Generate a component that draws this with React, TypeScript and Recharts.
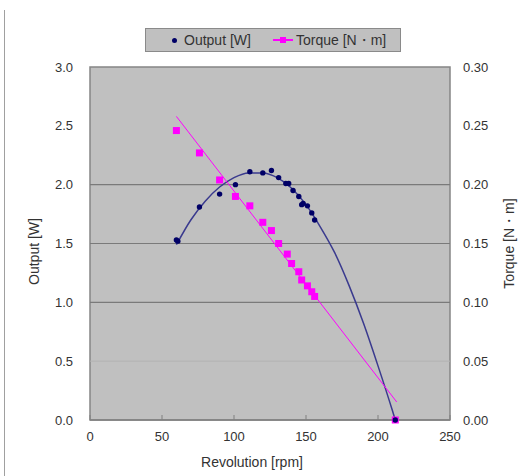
import {
  ComposedChart, Line, Scatter, XAxis, YAxis, ReferenceArea, ReferenceLine,
} from 'recharts';

// measured points, revolution [rpm]
const outputRpm = [60, 61, 76, 90, 101, 111, 120, 126, 131, 136, 138, 141, 145, 147, 148, 151, 154, 156, 212];
const outputW = [1.53, 1.52, 1.81, 1.92, 2.0, 2.11, 2.1, 2.12, 2.06, 2.01, 2.01, 1.95, 1.9, 1.83, 1.84, 1.82, 1.76, 1.7, 0];

const torqueRpm = [60, 76, 90, 101, 111, 120, 126, 131, 137, 140, 145, 147, 151, 154, 156, 212];
const torqueNm = [0.246, 0.227, 0.204, 0.19, 0.182, 0.168, 0.161, 0.15, 0.141, 0.133, 0.126, 0.119, 0.114, 0.109, 0.105, 0];

// trend lines as drawn
const outputTrendRpm = [60, 70, 80, 90, 100, 110, 120, 130, 140, 150, 160, 170, 180, 190, 200, 210, 212];
const outputTrendW = [1.49, 1.7, 1.86, 1.98, 2.06, 2.1, 2.1, 2.06, 1.97, 1.83, 1.64, 1.42, 1.14, 0.82, 0.46, 0.08, 0];
const torqueTrendRpm = [60, 213];
const torqueTrendNm = [0.258, 0.0153];

const xTicks = [0, 50, 100, 150, 200, 250];
const leftTicks = [0, 0.5, 1.0, 1.5, 2.0, 2.5, 3.0];
const rightTicks = [0, 0.05, 0.1, 0.15, 0.2, 0.25, 0.3];

const outputData = outputRpm.map((x, i) => ({ x, w: outputW[i] }));
const torqueData = torqueRpm.map((x, i) => ({ x, t: torqueNm[i] }));
const outputTrend = outputTrendRpm.map((x, i) => ({ x, w: outputTrendW[i] }));
const torqueTrend = torqueTrendRpm.map((x, i) => ({ x, t: torqueTrendNm[i] }));

const FONT = '"Liberation Sans", Arial, sans-serif';
const NAVY = '#000066';
const CURVE = '#3a3a8e';
const MAGENTA = '#ff00ff';

const tickStyle = { fontSize: 13, fill: '#333', fontFamily: FONT };

function XTick(props: any) {
  const { x, y, payload } = props;
  return (
    <g>
      <line x1={x} x2={x} y1={420} y2={415} stroke="#808080" />
      <text x={x} y={y} dy="0.71em" textAnchor="middle" {...tickStyle}>{payload.value}</text>
    </g>
  );
}

const dot = (p: any) => <circle cx={p.cx} cy={p.cy} r={2.7} fill={NAVY} />;
const square = (p: any) => <rect x={p.cx - 3.5} y={p.cy - 3.5} width={7} height={7} fill={MAGENTA} />;

export default function App() {
  return (
    <div style={{ position: 'absolute', left: 0, top: 0, width: 532, height: 476, background: '#fff', fontFamily: FONT }}>
      <div style={{ position: 'absolute', left: 4, top: 10, width: 1, height: 466, background: '#a0a0a0' }} />
      <ComposedChart width={532} height={476} margin={{ top: 67, right: 0, bottom: 0, left: 0 }}>
        <XAxis
          type="number"
          dataKey="x"
          domain={[0, 250]}
          ticks={xTicks}
          height={56}
          tickSize={0}
          tickMargin={12}
          axisLine={{ stroke: '#808080', strokeWidth: 1.5 }}
          tick={<XTick />}
          allowDataOverflow
          label={{ value: 'Revolution [rpm]', position: 'insideBottom', offset: 9, dx: -18, fontSize: 14, fill: '#333', fontFamily: FONT }}
        />
        <YAxis
          yAxisId="left"
          domain={[0, 3]}
          ticks={leftTicks}
          width={90}
          tickSize={0}
          tickMargin={17}
          axisLine={false}
          tickFormatter={(v: number) => v.toFixed(1)}
          tick={tickStyle}
          label={{ value: 'Output [W]', angle: -90, position: 'insideLeft', offset: 34, dy: 8, fontSize: 14, fill: '#333', fontFamily: FONT, style: { textAnchor: 'middle' } }}
        />
        <YAxis
          yAxisId="right"
          orientation="right"
          domain={[0, 0.3]}
          ticks={rightTicks}
          width={82}
          tickSize={0}
          tickMargin={13}
          axisLine={false}
          tickFormatter={(v: number) => v.toFixed(2)}
          tick={{ ...tickStyle, textAnchor: 'start' }}
          label={{ value: 'Torque [N・m]', angle: -90, position: 'insideRight', offset: 23, dy: 0, fontSize: 14, fill: '#333', fontFamily: FONT, style: { textAnchor: 'middle' } }}
        />
        <ReferenceArea yAxisId="left" x1={0} x2={250} y1={0} y2={3} fill="#c0c0c0" fillOpacity={1} stroke="#858585" strokeWidth={1.5} />
        <ReferenceLine yAxisId="left" y={0.5} stroke="#b2b2b2" />
        <ReferenceLine yAxisId="left" y={1.0} stroke="#7a7a7a" strokeWidth={1.2} />
        <ReferenceLine yAxisId="left" y={1.5} stroke="#7a7a7a" strokeWidth={1.2} />
        <ReferenceLine yAxisId="left" y={2.0} stroke="#7a7a7a" strokeWidth={1.2} />
        <Line yAxisId="left" data={outputTrend} dataKey="w" type="monotone" stroke={CURVE} strokeWidth={1.5} dot={false} isAnimationActive={false} />
        <Line yAxisId="right" data={torqueTrend} dataKey="t" type="linear" stroke={MAGENTA} strokeWidth={1} dot={false} isAnimationActive={false} />
        <Scatter yAxisId="right" data={torqueData} dataKey="t" shape={square} isAnimationActive={false} />
        <Scatter yAxisId="left" data={outputData} dataKey="w" shape={dot} isAnimationActive={false} />
      </ComposedChart>
      <div style={{ position: 'absolute', left: 145, top: 28, width: 254, height: 22, background: '#c0c0c0', border: '1px solid #8a8a8a', fontSize: 14, color: '#333', lineHeight: '22px' }}>
        <span style={{ position: 'absolute', left: 26, top: 9, width: 5, height: 5, borderRadius: 3, background: NAVY }} />
        <span style={{ position: 'absolute', left: 38, top: 0 }}>Output [W]</span>
        <span style={{ position: 'absolute', left: 127, top: 10, width: 20, height: 2, background: MAGENTA }} />
        <span style={{ position: 'absolute', left: 134, top: 8, width: 6, height: 6, background: MAGENTA }} />
        <span style={{ position: 'absolute', left: 150, top: 0 }}>Torque [N・m]</span>
      </div>
    </div>
  );
}
